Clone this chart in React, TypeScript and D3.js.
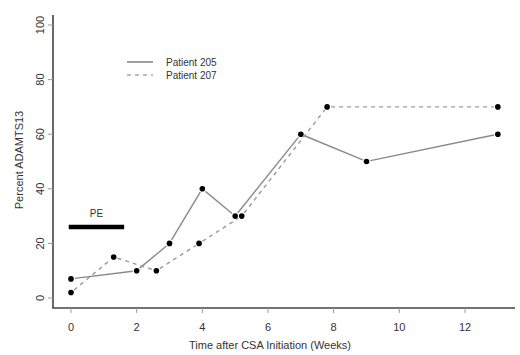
import React, { useEffect, useRef } from "react";
import * as d3 from "d3";

// weeks after CSA initiation / percent ADAMTS13
const weeks205 = [0, 2, 3, 4, 5, 7, 9, 13];
const values205 = [7, 10, 20, 40, 30, 60, 50, 60];
const weeks207 = [0, 1.3, 2.6, 3.9, 5.2, 7.8, 13];
const values207 = [2, 15, 10, 20, 30, 70, 70];
const xTicks = [0, 2, 4, 6, 8, 10, 12];
const yTicks = [0, 20, 40, 60, 80, 100];
const seriesNames = ["Patient 205", "Patient 207"];
const peRange = [0, 1.55];
const peLevel = 26;

export default function App() {
  const svgRef = useRef<SVGSVGElement>(null);

  useEffect(() => {
    const svg = d3.select(svgRef.current);
    svg.selectAll("*").remove();

    const width = 520;
    const height = 355;
    const font = "Liberation Sans, Arial, Helvetica, sans-serif";

    const x = d3.scaleLinear().domain([0, 12]).range([71, 465]);
    const y = d3.scaleLinear().domain([0, 100]).range([298, 25]);

    svg.append("rect").attr("width", width).attr("height", height).attr("fill", "#fff");

    // L-shaped frame (R bty="l")
    const axisColor = "#444";
    svg
      .append("path")
      .attr("d", `M53,15 L53,308 L515,308`)
      .attr("fill", "none")
      .attr("stroke", axisColor)
      .attr("stroke-width", 1.6);

    // x ticks
    const xg = svg.append("g");
    xg.selectAll("line")
      .data(xTicks)
      .enter()
      .append("line")
      .attr("x1", (d) => x(d))
      .attr("x2", (d) => x(d))
      .attr("y1", 308)
      .attr("y2", 313)
      .attr("stroke", "#999");
    xg.selectAll("text")
      .data(xTicks)
      .enter()
      .append("text")
      .attr("x", (d) => x(d))
      .attr("y", 331)
      .attr("text-anchor", "middle")
      .attr("font-family", font)
      .attr("font-size", 11)
      .attr("fill", "#333")
      .text((d) => d);

    // y ticks
    const yg = svg.append("g");
    yg.selectAll("line")
      .data(yTicks)
      .enter()
      .append("line")
      .attr("x1", 48)
      .attr("x2", 53)
      .attr("y1", (d) => y(d))
      .attr("y2", (d) => y(d))
      .attr("stroke", "#999");
    yg.selectAll("text")
      .data(yTicks)
      .enter()
      .append("text")
      .attr("transform", (d) => `translate(44,${y(d)}) rotate(-90)`)
      .attr("text-anchor", "middle")
      .attr("font-family", font)
      .attr("font-size", 11)
      .attr("fill", "#333")
      .text((d) => d);

    // axis labels
    svg
      .append("text")
      .attr("x", 270)
      .attr("y", 349)
      .attr("text-anchor", "middle")
      .attr("font-family", font)
      .attr("font-size", 11)
      .attr("fill", "#333")
      .text("Time after CSA Initiation (Weeks)");
    svg
      .append("text")
      .attr("transform", "translate(23,160) rotate(-90)")
      .attr("text-anchor", "middle")
      .attr("font-family", font)
      .attr("font-size", 11)
      .attr("fill", "#333")
      .text("Percent ADAMTS13");

    // lines with gaps around points (type="b")
    const gap = 4;
    const drawSeries = (xs: number[], ys: number[], dash: string | null) => {
      const pts = xs.map((d, i) => [x(d), y(ys[i])]);
      const g = svg.append("g");
      for (let i = 0; i < pts.length - 1; i++) {
        const [x0, y0] = pts[i];
        const [x1, y1] = pts[i + 1];
        const len = Math.hypot(x1 - x0, y1 - y0);
        if (len <= gap * 2) continue;
        const ux = (x1 - x0) / len;
        const uy = (y1 - y0) / len;
        g.append("line")
          .attr("x1", x0 + ux * gap)
          .attr("y1", y0 + uy * gap)
          .attr("x2", x1 - ux * gap)
          .attr("y2", y1 - uy * gap)
          .attr("stroke", dash ? "#9a9a9a" : "#8a8a8a")
          .attr("stroke-width", 1.4)
          .attr("stroke-dasharray", dash);
      }
      g.selectAll("circle")
        .data(pts)
        .enter()
        .append("circle")
        .attr("cx", (d) => d[0])
        .attr("cy", (d) => d[1])
        .attr("r", 2.8)
        .attr("fill", "#000");
    };
    drawSeries(weeks205, values205, null);
    drawSeries(weeks207, values207, "4,4");

    // PE bar
    svg
      .append("line")
      .attr("x1", x(peRange[0]))
      .attr("x2", x(peRange[1]))
      .attr("y1", y(peLevel))
      .attr("y2", y(peLevel))
      .attr("stroke", "#000")
      .attr("stroke-width", 4.5)
      .attr("stroke-linecap", "square");
    svg
      .append("text")
      .attr("x", x((peRange[0] + peRange[1]) / 2))
      .attr("y", y(peLevel) - 10)
      .attr("text-anchor", "middle")
      .attr("font-family", font)
      .attr("font-size", 10)
      .attr("fill", "#333")
      .text("PE");

    // legend
    const legend = svg.append("g").attr("transform", "translate(127,62)");
    seriesNames.forEach((name, i) => {
      legend
        .append("line")
        .attr("x1", 0)
        .attr("x2", 26)
        .attr("y1", i * 13)
        .attr("y2", i * 13)
        .attr("stroke", i === 0 ? "#777" : "#aaa")
        .attr("stroke-width", 1.4)
        .attr("stroke-dasharray", i === 0 ? null : "4,4");
      legend
        .append("text")
        .attr("x", 39)
        .attr("y", i * 13 + 3.5)
        .attr("font-family", font)
        .attr("font-size", 10)
        .attr("fill", "#333")
        .text(name);
    });
  }, []);

  return (
    <svg
      ref={svgRef}
      width={520}
      height={355}
      style={{ position: "absolute", left: 0, top: 0 }}
    ></svg>
  );
}
